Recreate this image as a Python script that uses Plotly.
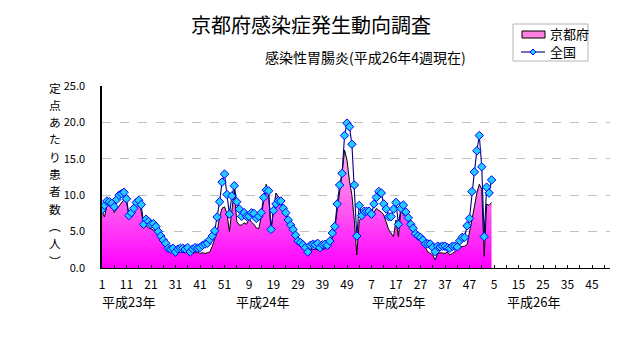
import plotly.graph_objects as go

# Weekly sentinel reports of infectious gastroenteritis (per sentinel site),
# 2011 week 1 (平成23年) through 2014 week 4 (平成26年), 52 weeks per year.
kyoto = [
    7.8, 7.0, 8.6, 8.7, 8.6, 7.6, 8.1, 8.5, 8.9, 9.4,
    9.0, 7.3, 7.5, 7.9, 8.5, 9.0, 7.8, 5.9, 5.8, 5.5,
    5.4, 5.2, 5.0, 4.4, 4.0, 3.4, 2.8, 2.5, 2.4, 2.0,
    1.6, 2.2, 2.3, 2.1, 2.3, 2.2, 2.0, 2.2, 2.1, 2.2,
    2.0, 2.1, 2.0, 2.1, 2.2, 3.0, 4.0, 5.0, 7.0, 8.2,
    8.4, 7.5,
    5.0, 8.0, 10.7, 6.4, 5.9, 5.9, 6.2, 6.0, 6.8, 6.3,
    6.0, 5.5, 5.4, 7.0, 9.0, 11.5, 10.0, 5.2, 8.0, 10.3,
    9.8, 8.8, 8.0, 7.3, 6.4, 5.9, 5.0, 4.3, 3.7, 3.2,
    2.9, 2.6, 2.0, 2.6, 2.5, 2.6, 2.5, 2.5, 2.6, 2.6,
    2.9, 3.6, 4.1, 5.4, 7.7, 10.5, 13.0, 16.2, 14.8, 12.0,
    10.0, 6.5,
    1.8, 6.5, 7.0, 7.5, 7.7, 7.4, 7.0, 7.6, 8.2, 7.9,
    7.7, 7.3, 6.3, 5.3, 4.8, 4.3, 6.6, 4.3, 8.0, 7.3,
    7.2, 6.9, 6.6, 5.7, 5.0, 4.5, 4.1, 3.4, 2.8, 2.2,
    2.0, 1.8, 1.1, 2.0, 2.1, 2.1, 2.0, 2.2, 1.8, 2.0,
    2.2, 2.5, 2.9, 2.9, 3.0, 3.2, 4.8, 6.6, 8.4, 10.3,
    11.5, 10.8,
    1.6, 8.8, 8.6, 9.0,
]

national = [
    8.0, 8.6, 9.2, 9.1, 8.9, 8.4, 9.4, 10.0, 10.2, 10.4,
    9.5, 7.2, 7.6, 8.2, 9.0, 9.3, 8.7, 6.0, 6.7, 6.4,
    6.0, 6.1, 5.7, 5.0, 4.4, 3.85, 3.4, 2.7, 2.6, 2.7,
    2.2, 2.6, 2.7, 2.7, 2.6, 2.8, 2.2, 2.6, 2.8, 2.75,
    2.8, 3.1, 3.3, 3.4, 3.9, 4.4, 5.1, 7.0, 9.1, 11.8,
    12.9, 10.1,
    7.4, 9.9, 11.3, 9.1, 8.1, 7.1, 7.6, 7.1, 7.1, 7.6,
    7.5, 6.8, 7.1, 7.6, 9.7, 10.7, 10.6, 5.3, 7.9, 8.8,
    9.25, 9.2, 8.2, 7.6, 6.6, 5.9, 5.3, 4.5, 3.7, 3.5,
    3.2, 2.8, 2.2, 3.1, 3.25, 3.2, 3.4, 2.8, 3.2, 3.25,
    3.1, 3.7, 4.8, 5.7, 8.8, 11.4, 13.0, 18.2, 19.9, 19.4,
    17.0, 11.4,
    4.4, 8.6, 7.2, 7.8, 7.8, 7.8, 7.4, 8.8, 9.7, 10.5,
    10.3, 8.8, 8.1, 7.05, 7.05, 8.1, 9.0, 6.0, 8.2, 8.65,
    7.7, 6.9, 6.0, 5.45, 4.7, 4.4, 4.2, 3.85, 3.3, 3.3,
    3.3, 2.84, 2.24, 3.0, 2.9, 3.0, 3.0, 2.8, 2.7, 3.0,
    3.0, 2.9, 3.75, 4.2, 4.2, 5.8, 6.8, 10.5, 13.2, 16.1,
    18.2, 13.9,
    4.3, 11.1, 10.3, 12.1,
]

years = ["平成23年", "平成24年", "平成25年", "平成26年"]
weeks_per_year = 52
week_labels = ["1", "11", "21", "31", "41", "51", "9", "19", "29", "39", "49",
               "7", "17", "27", "37", "47", "5", "15", "25", "35", "45"]
y_ticks = [0, 5, 10, 15, 20, 25]
y_title = ["定", "点", "あ", "た", "り", "患", "者", "数", "︵", "人", "︶"]
series_names = ["京都府", "全国"]

FONT = "Noto Sans CJK JP"
NAVY = "#000080"
MARKER_FILL = "#22ccff"
MARKER_EDGE = "#0000ff"

# Running week index across the four years (1 = first week of 平成23年)
x_kyoto = list(range(1, len(kyoto) + 1))
x_nat = list(range(1, len(national) + 1))
n_slots = weeks_per_year * len(years)

# Ticks every 5 weeks, labelled every 10 weeks
tick_vals = list(range(1, n_slots, 5))
tick_text = []
lab = iter(week_labels)
for k, _ in enumerate(tick_vals):
    tick_text.append(next(lab, "") if k % 2 == 0 else "")

fig = go.Figure()

fig.add_trace(go.Scatter(
    x=x_kyoto, y=kyoto, name=series_names[0], mode="lines",
    line=dict(color="black", width=1),
    fill="tozeroy",
    fillgradient=dict(type="vertical", start=0, stop=15,
                      colorscale=[[0, "#ff00ff"], [1, "#ffa6e6"]]),
    showlegend=False,
))

fig.add_trace(go.Scatter(
    x=x_nat, y=national, name=series_names[1], mode="lines+markers",
    line=dict(color=NAVY, width=1.1),
    marker=dict(symbol="diamond", size=6.5, color=MARKER_FILL,
                line=dict(color=MARKER_EDGE, width=1)),
    showlegend=False,
))

# Plot area spans 508 x 182 px; helpers for placing text in paper units
L, T, W, H = 102, 86, 508, 182
def px(xp):
    return (xp - L) / W
def py(yp):
    return (T + H - yp) / H

annotations = [
    dict(text="京都府感染症発生動向調査", x=px(311), y=py(24), xref="paper", yref="paper",
         showarrow=False, font=dict(family=FONT, size=20, color="black"),
         xanchor="center", yanchor="middle"),
    dict(text="感染性胃腸炎(平成26年4週現在)", x=px(365), y=py(57), xref="paper", yref="paper",
         showarrow=False, font=dict(family=FONT, size=14, color="black"),
         xanchor="center", yanchor="middle"),
]
# Vertical axis title, stacked one character at a time
for k, ch in enumerate(y_title):
    annotations.append(dict(text=ch, x=px(55), y=py(87 + 17.3 * k), xref="paper", yref="paper",
                            showarrow=False, font=dict(family=FONT, size=11.8, color="black"),
                            xanchor="center", yanchor="middle", borderpad=0))
for yr, xc in zip(years, [11.7, 66.6, 122.0, 177.2]):
    annotations.append(dict(text=yr, x=xc, y=py(301), xref="x", yref="paper",
                            showarrow=False, font=dict(family=FONT, size=13, color="black"),
                            xanchor="center", yanchor="middle"))

# Legend box drawn with shapes: area swatch and line-with-diamond key
shapes = [
    dict(type="rect", xref="paper", yref="paper", x0=px(513), x1=px(588), y0=py(61), y1=py(24),
         line=dict(color="#b4b4b4", width=1), fillcolor="white", layer="above"),
    dict(type="rect", xref="paper", yref="paper", x0=px(522), x1=px(545), y0=py(38), y1=py(31),
         line=dict(color="black", width=1), fillcolor="#ff80e0", layer="above"),
    dict(type="line", xref="paper", yref="paper", x0=px(521), x1=px(545), y0=py(52), y1=py(52),
         line=dict(color=NAVY, width=1.1), layer="above"),
    dict(type="path", xref="paper", yref="paper", layer="above",
         path=(f"M {px(533)} {py(49)} L {px(536)} {py(52)} L {px(533)} {py(55)} "
               f"L {px(530)} {py(52)} Z"),
         line=dict(color=MARKER_EDGE, width=1), fillcolor=MARKER_FILL),
]
for name, yc in zip(series_names, [34, 51]):
    annotations.append(dict(text=name, x=px(548), y=py(yc), xref="paper", yref="paper",
                            showarrow=False, font=dict(family=FONT, size=13, color="black"),
                            xanchor="left", yanchor="middle"))

fig.update_layout(
    width=632, height=348,
    margin=dict(l=L, r=632 - L - W, t=T, b=348 - T - H),
    paper_bgcolor="white", plot_bgcolor="white",
    font=dict(family=FONT, color="black"),
    showlegend=False,
    annotations=annotations,
    shapes=shapes,
)

fig.update_xaxes(
    range=[1, 1 + W / 2.45], tickmode="array", tickvals=tick_vals, ticktext=tick_text,
    ticks="inside", ticklen=3, tickcolor="black", tickwidth=1,
    showline=True, linecolor="black", linewidth=1, showgrid=False, zeroline=False,
    tickfont=dict(family=FONT, size=12), ticklabelstandoff=6,
)
fig.update_yaxes(
    range=[0, 25], tickmode="array", tickvals=y_ticks, tickformat=".1f",
    ticks="", showline=True, linecolor="black", linewidth=1.5,
    showgrid=True, gridcolor="#c0c0c0", griddash="dash", gridwidth=1, zeroline=False,
    tickfont=dict(family=FONT, size=11), ticklabelstandoff=13,
)

fig.write_html("out.html")
